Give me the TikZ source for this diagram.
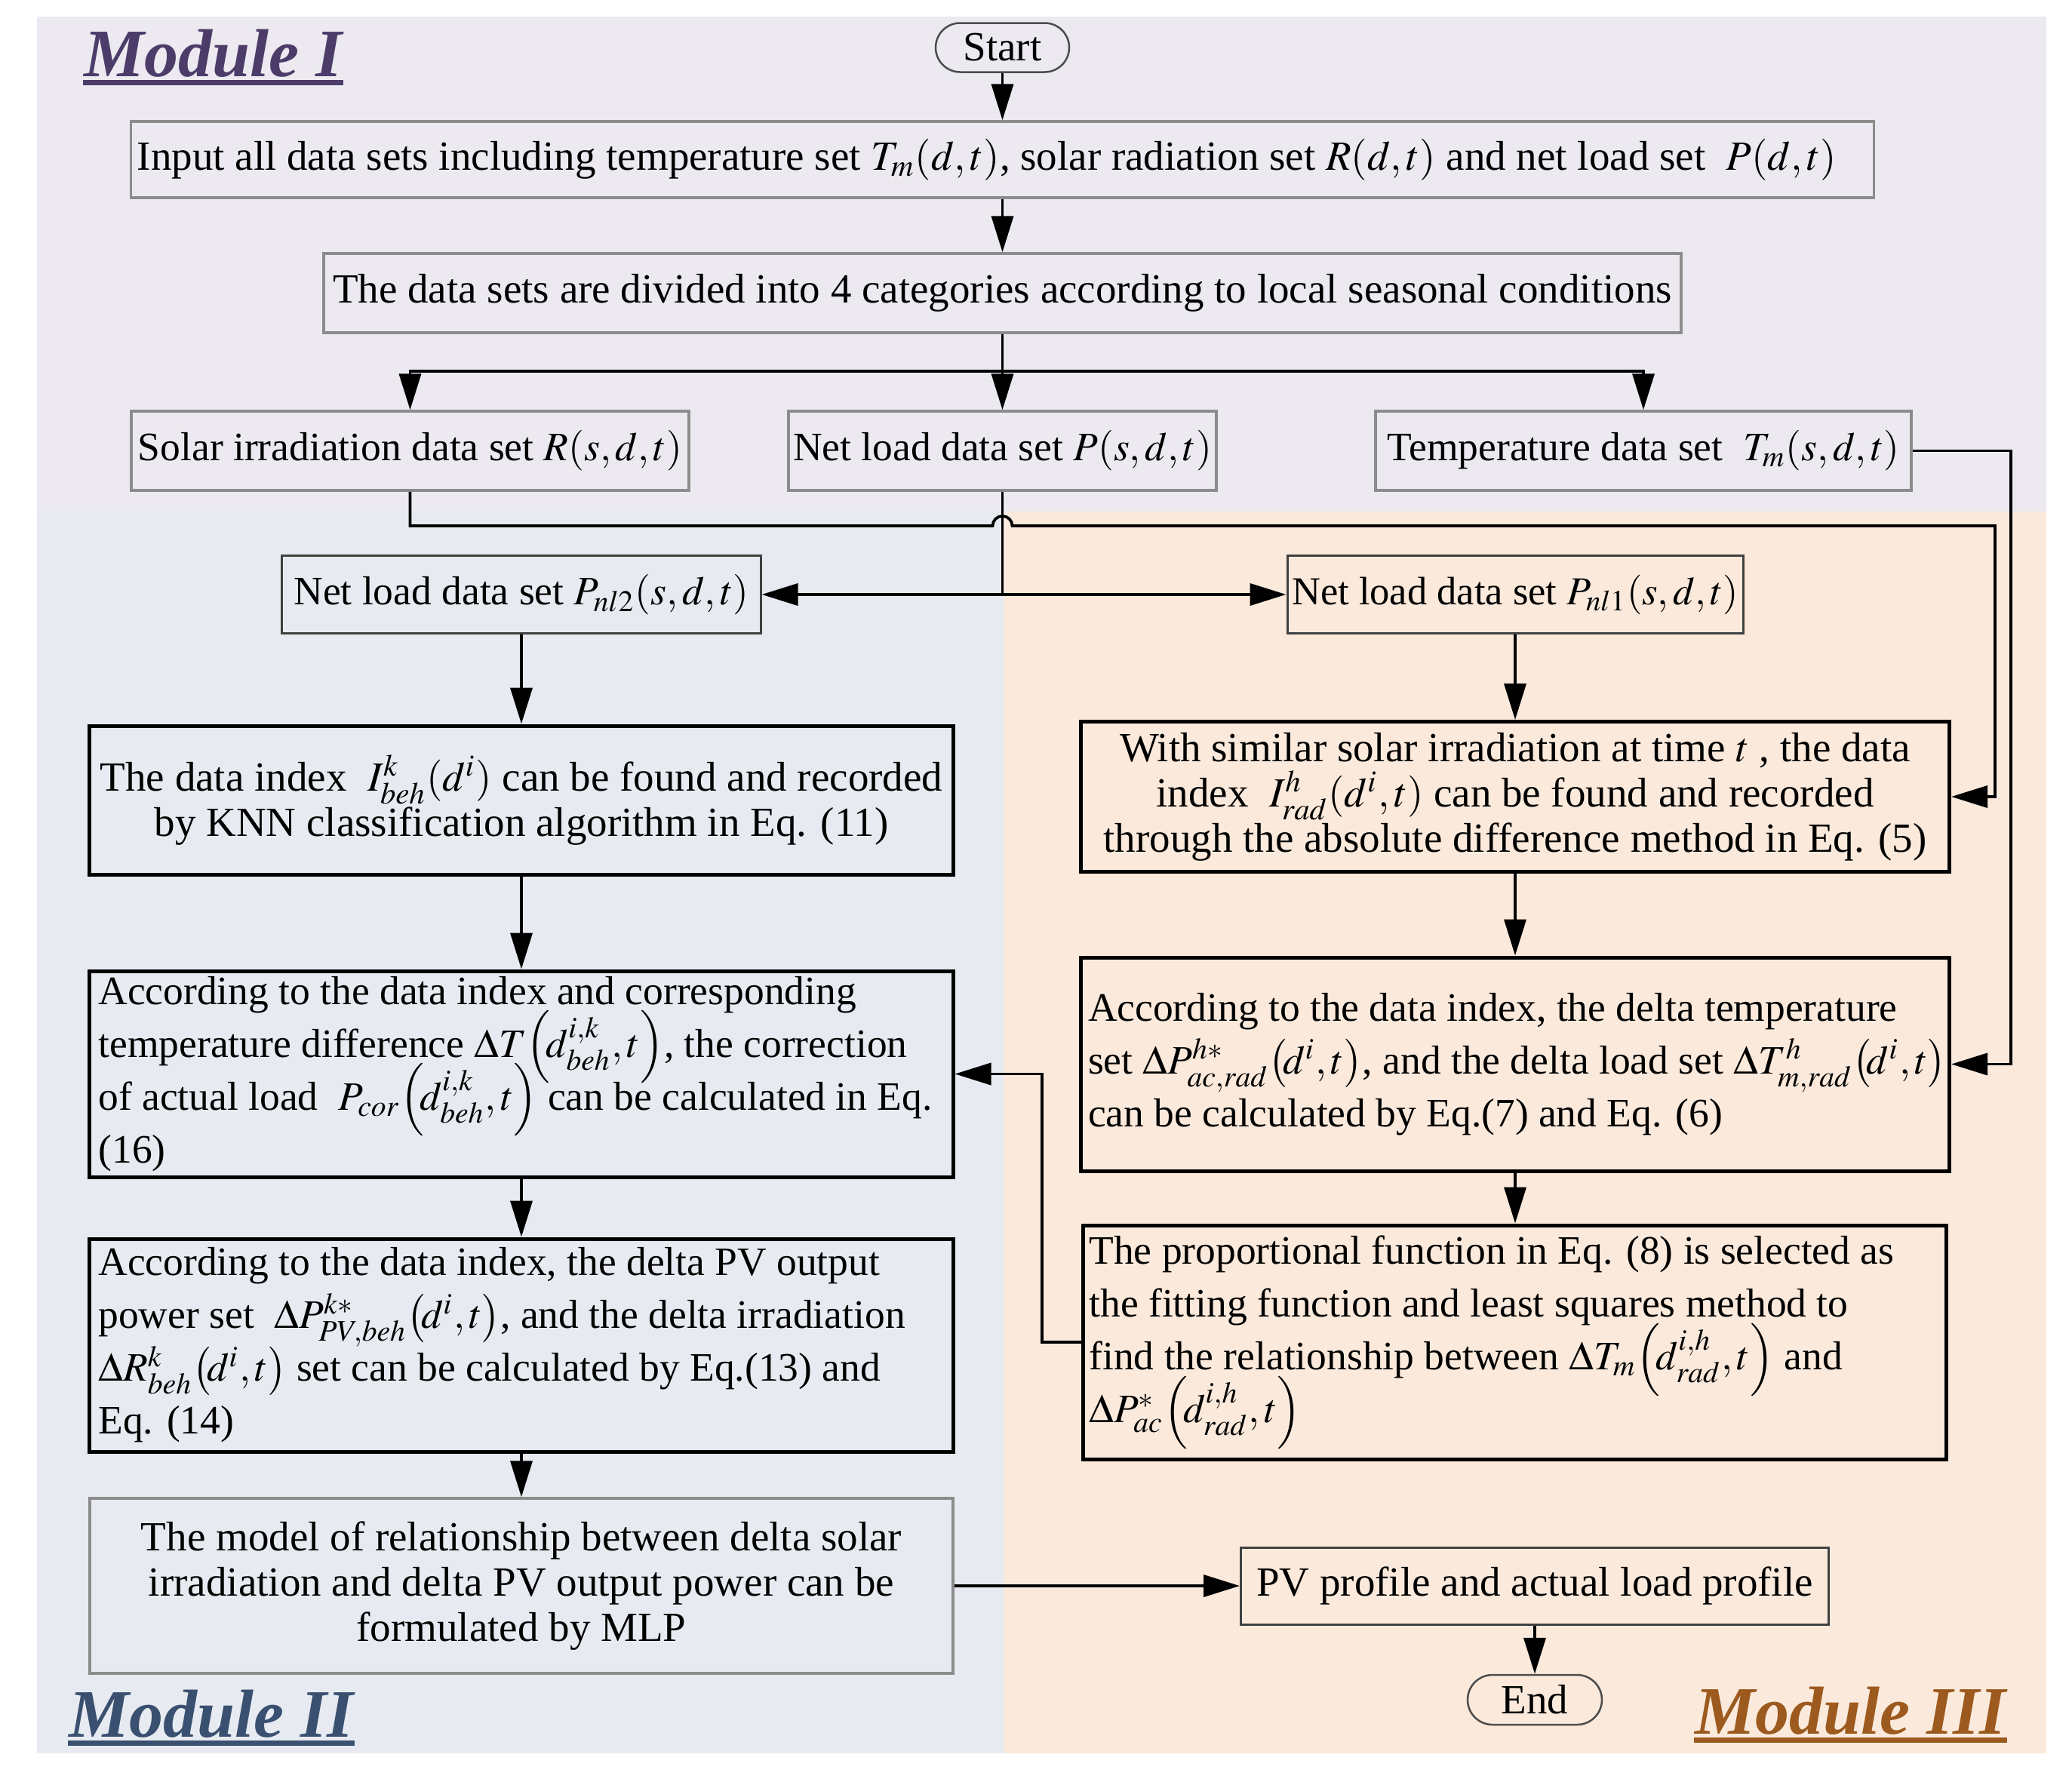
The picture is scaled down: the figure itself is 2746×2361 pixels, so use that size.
\documentclass[tikz,border=0pt]{standalone}
\usepackage{mathptmx}
\usepackage{fontspec}
\setmainfont{Liberation Serif}
\usetikzlibrary{arrows.meta,shapes.misc}
\lineskiplimit=-30pt
\definecolor{bgI}{RGB}{236,234,240}
\definecolor{bgII}{RGB}{231,235,241}
\definecolor{bgIII}{RGB}{251,234,220}
\definecolor{colI}{RGB}{76,60,106}
\definecolor{colII}{RGB}{58,80,112}
\definecolor{colIII}{RGB}{156,90,30}
\begin{document}
\begin{tikzpicture}[x=0.2pt,y=-0.2pt,
  graybox/.style={draw=black!45, line width=0.7pt, rectangle, inner sep=0pt},
  thinbox/.style={draw=black!75, line width=0.6pt, rectangle, inner sep=0pt},
  blkbox/.style={draw=black, line width=1pt, rectangle, inner sep=0pt},
  term/.style={draw=black!70, line width=0.5pt, rounded rectangle, inner sep=0pt},
  txt/.style={font=\fontsize{11}{12}\selectfont, inner sep=0pt},
  txts/.style={font=\fontsize{10.7}{12}\selectfont, inner sep=0pt},
  txtn/.style={font=\fontsize{10.5}{12}\selectfont, inner sep=0pt},
  txtw/.style={font=\fontsize{10.7}{14}\selectfont, inner sep=0pt, align=left},
  modlab/.style={font=\fontsize{18}{20}\selectfont\bfseries\itshape, inner sep=0pt},
  line/.style={draw=black, line width=0.75pt},
  arr/.style={line, -{Triangle[length=9.6pt,width=5.8pt]}},
]
\useasboundingbox (0,0) rectangle (2746,2361);
\fill[white] (0,0) rectangle (2746,2361);
\fill[bgI] (49,22) rectangle (2712,678);
\fill[bgII] (49,678) rectangle (1330,2324);
\fill[bgIII] (1330,678) rectangle (2712,2324);

% module labels
\node[modlab, text=colI, anchor=base west] (m1) at (110,101) {Module I};
\draw[colI, line width=1.4pt] ([yshift=-1.7pt]m1.base west) -- ([yshift=-1.7pt]m1.base east);
\node[modlab, text=colII, anchor=base west] (m2) at (90,2302) {Module II};
\draw[colII, line width=1.4pt] ([yshift=-1.7pt]m2.base west) -- ([yshift=-1.7pt]m2.base east);
\node[modlab, text=colIII, anchor=base west] (m3) at (2245,2298) {Module III};
\draw[colIII, line width=1.4pt] ([yshift=-1.7pt]m3.base west) -- ([yshift=-1.7pt]m3.base east);

% Module I nodes
\node[term, txt, minimum width=35.4pt, minimum height=13pt] (start) at (1328.5,63) {Start};
\node[graybox, minimum width=462pt, minimum height=20.2pt] (input) at (1328.5,211.5) {};
\node[txt, anchor=west] (inputT) at ([xshift=1.8pt]input.west) {Input all data sets including temperature set $T_m(d,t)$, solar radiation set $R(d,t)$ and net load set~ $P(d,t)$};
\node[graybox, txt, minimum width=359.8pt, minimum height=21pt] (cat) at (1328.5,388.5) {The data sets are divided into 4 categories according to local seasonal conditions};
\node[graybox, txts, minimum width=147.8pt, minimum height=21pt] (solar) at (543.5,597.5) {Solar irradiation data set $R(s,d,t)$};
\node[graybox, txts, minimum width=113.4pt, minimum height=21pt] (net) at (1328.5,597.5) {Net load data set $P(s,d,t)$};
\node[graybox, txts, minimum width=142pt, minimum height=21pt] (temp) at (2178,597.5) {Temperature data set~ $T_m(s,d,t)$};

% Module II / III nodes
\node[thinbox, txts, minimum width=126.8pt, minimum height=20.6pt] (pnl2) at (691,788) {Net load data set $P_{nl2}(s,d,t)$};
\node[thinbox, txtn, minimum width=120.8pt, minimum height=20.6pt] (pnl1) at (2008,788) {Net load data set $P_{nl1}(s,d,t)$};

\node[blkbox, txt, align=center, minimum width=228.8pt, minimum height=39.4pt] (knn) at (691,1060.5) {The data index~ $I^{k}_{beh}(d^{i})$ can be found and recorded\\ by KNN classification algorithm in Eq. (11)};
\node[blkbox, txt, align=center, minimum width=230.2pt, minimum height=39.8pt] (sim) at (2008,1056) {With similar solar irradiation at time $t$ , the data\\ index~ $I^{h}_{rad}(d^{i},t)$ can be found and recorded\\ through the absolute difference method in Eq. (5)};

\node[blkbox, minimum width=228.8pt, minimum height=54.6pt] (corr) at (691,1423.5) {};
\node[txtw, anchor=west] (corrT) at ([xshift=2.6pt]corr.west) {According to the data index and corresponding\\ temperature difference $\Delta T\!\left(\!d^{i,k}_{beh},t\right)$, the correction\\ of actual load~ $P_{cor}\!\left(\!d^{i,k}_{beh},t\right)$ can be calculated in Eq.\\ (16)};

\node[blkbox, minimum width=230.2pt, minimum height=56.6pt] (dtemp) at (2008,1410.5) {};
\node[txtw, anchor=west] (dtempT) at ([xshift=2.2pt]dtemp.west) {According to the data index, the delta temperature\\ set $\Delta P^{h*}_{ac,rad}\!\left(\!d^{i},t\right)$, and the delta load set $\Delta T^{h}_{m,rad}\!\left(\!d^{i},t\right)$\\ can be calculated by Eq.(7) and Eq. (6)};

\node[blkbox, minimum width=228.8pt, minimum height=56.4pt] (pvout) at (691,1783) {};
\node[txtw, anchor=west] (pvoutT) at ([xshift=2.6pt]pvout.west) {According to the data index, the delta PV output\\ power set~ $\Delta P^{k*}_{PV,beh}\!\left(\!d^{i},t\right)$, and the delta irradiation\\ $\Delta R^{k}_{beh}\!\left(\!d^{i},t\right)$ set can be calculated by Eq.(13) and\\ Eq. (14)};

\node[blkbox, minimum width=228.8pt, minimum height=62pt] (prop) at (2007,1779) {};
\node[txtw, anchor=west] (propT) at ([xshift=2pt]prop.west) {The proportional function in Eq. (8) is selected as\\ the fitting function and least squares method to\\ find the relationship between $\Delta T_{m}\!\left(\!d^{i,h}_{rad},t\right)$ and\\ $\Delta P^{*}_{ac}\!\left(\!d^{i,h}_{rad},t\right)$};

\node[graybox, txt, align=center, minimum width=228.8pt, minimum height=46.4pt] (mlp) at (691,2102) {The model of relationship between delta solar\\ irradiation and delta PV output power can be\\ formulated by MLP};
\node[thinbox, txt, minimum width=155.8pt, minimum height=20.4pt] (pvp) at (2034,2102) {PV profile and actual load profile};
\node[term, txt, minimum width=35.6pt, minimum height=13.2pt] (end) at (2034,2253) {End};

% connectors
\draw[arr] (start.south) -- (input.north);
\draw[arr] (input.south) -- (cat.north);
\coordinate (br) at (1328.5,492);
\draw[line] (cat.south) -- (br);
\draw[arr] (br) -| (solar.north);
\draw[arr] (br) -- (net.north);
\draw[arr] (br) -| (temp.north);

\coordinate (nb) at (1328.5,788);
\draw[line] (net.south) -- (nb);
\draw[arr] (nb) -- (pnl2.east);
\draw[arr] (nb) -- (pnl1.west);

\coordinate (s1) at (543.5,697);
\coordinate (h1) at (1315.5,697);
\coordinate (c1) at (2644,697);
\draw[arr] (solar.south) -- (s1) -- (h1) arc[start angle=180,end angle=360,radius=13] -- (c1) -- (c1 |- sim.east) -- (sim.east);

\coordinate (c2) at (2665,597.5);
\draw[arr] (temp.east) -- (c2) -- (c2 |- dtemp.east) -- (dtemp.east);

\draw[arr] (pnl2.south) -- (knn.north);
\draw[arr] (knn.south) -- (corr.north);
\draw[arr] (corr.south) -- (pvout.north);
\draw[arr] (pvout.south) -- (mlp.north);

\draw[arr] (pnl1.south) -- (sim.north);
\draw[arr] (sim.south) -- (dtemp.north);
\draw[arr] (dtemp.south) -- (dtemp.south |- prop.north);

\coordinate (c3) at (1381,1779);
\draw[arr] (prop.west) -- (c3) -- (c3 |- corr.east) -- (corr.east);

\draw[arr] (mlp.east) -- (pvp.west);
\draw[arr] (pvp.south) -- (end.north);
\end{tikzpicture}
\end{document}
